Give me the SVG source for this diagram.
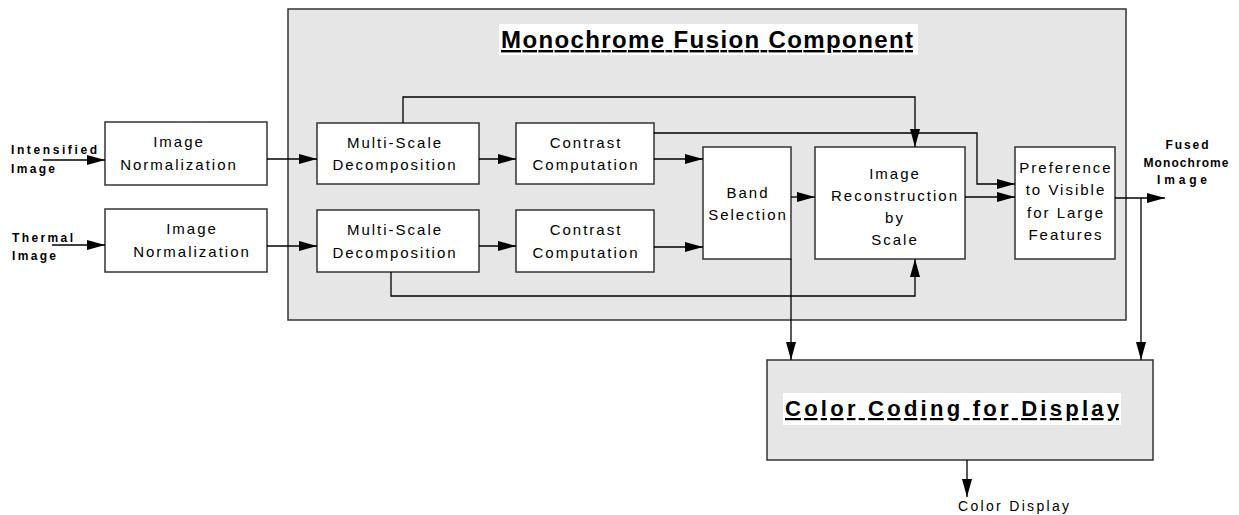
<svg xmlns="http://www.w3.org/2000/svg" width="1239" height="515" viewBox="0 0 1239 515">
<defs>
<marker id="ah" markerUnits="userSpaceOnUse" markerWidth="18" markerHeight="10" refX="18" refY="5" orient="auto">
<path d="M0,0 L18,5 L0,10 z" fill="#000"/>
</marker>
<style>
.box{fill:#fff;stroke:#333;stroke-width:1.5}
.grp{fill:#e6e6e6;stroke:#333;stroke-width:1.5}
.t{font-family:"Liberation Sans",Arial,sans-serif;font-size:15px;letter-spacing:2px;fill:#000;text-anchor:middle}
.lb{font-family:"Liberation Sans",Arial,sans-serif;font-size:12px;font-weight:bold;fill:#000}
.ttl{font-family:"Liberation Sans",Arial,sans-serif;font-weight:bold;fill:#000;text-decoration:underline}
.ca{fill:none;stroke:#000;stroke-width:1.3;marker-end:url(#ah)}
</style>
</defs>
<rect width="1239" height="515" fill="#fff"/>
<g id="monochrome-fusion">
<rect class="grp" x="288" y="9" width="838" height="311"/>
<rect x="499" y="24" width="419" height="31" fill="#fff"/>
<text class="ttl" x="501" y="48" font-size="24" textLength="412" lengthAdjust="spacing">Monochrome Fusion Component</text>
</g>
<g id="color-coding">
<rect class="grp" x="767" y="360" width="386" height="100"/>
<rect x="783" y="393" width="338" height="32" fill="#fff"/>
<text class="ttl" x="785" y="416" font-size="22" textLength="334" lengthAdjust="spacing">Color Coding for Display</text>
</g>
<g id="input-intensified">
<text class="lb" x="11" y="154" textLength="86" lengthAdjust="spacing">Intensified</text>
<text class="lb" x="11" y="173" textLength="44" lengthAdjust="spacing">Image</text>
</g>
<g id="input-thermal">
<text class="lb" x="12" y="242" textLength="61" lengthAdjust="spacing">Thermal</text>
<text class="lb" x="12" y="260" textLength="44" lengthAdjust="spacing">Image</text>
</g>
<g id="norm1">
<rect class="box" x="105" y="122" width="162" height="63"/>
<text class="t" x="179" y="147">Image</text>
<text class="t" x="179" y="170">Normalization</text>
</g>
<g id="norm2">
<rect class="box" x="105" y="209" width="162" height="63"/>
<text class="t" x="192" y="234">Image</text>
<text class="t" x="192" y="257">Normalization</text>
</g>
<g id="msd1">
<rect class="box" x="317" y="123" width="162" height="61"/>
<text class="t" x="395" y="148">Multi-Scale</text>
<text class="t" x="395" y="170">Decomposition</text>
</g>
<g id="msd2">
<rect class="box" x="317" y="210" width="162" height="62"/>
<text class="t" x="395" y="235">Multi-Scale</text>
<text class="t" x="395" y="258">Decomposition</text>
</g>
<g id="contrast1">
<rect class="box" x="516" y="123" width="138" height="61"/>
<text class="t" x="586" y="148">Contrast</text>
<text class="t" x="586" y="170">Computation</text>
</g>
<g id="contrast2">
<rect class="box" x="516" y="210" width="138" height="62"/>
<text class="t" x="586" y="235">Contrast</text>
<text class="t" x="586" y="258">Computation</text>
</g>
<g id="band">
<rect class="box" x="703" y="147" width="88" height="112"/>
<text class="t" x="748" y="198">Band</text>
<text class="t" x="748" y="220">Selection</text>
</g>
<g id="recon">
<rect class="box" x="815" y="147" width="150" height="112"/>
<text class="t" x="895" y="179">Image</text>
<text class="t" x="895" y="201">Reconstruction</text>
<text class="t" x="895" y="223">by</text>
<text class="t" x="895" y="245">Scale</text>
</g>
<g id="preference">
<rect class="box" x="1015" y="147" width="100" height="112"/>
<text class="t" x="1066" y="173">Preference</text>
<text class="t" x="1066" y="195">to Visible</text>
<text class="t" x="1066" y="218">for Large</text>
<text class="t" x="1066" y="240">Features</text>
</g>
<g id="output-fused">
<text class="lb" x="1187" y="149" text-anchor="middle" textLength="43" lengthAdjust="spacing">Fused</text>
<text class="lb" x="1186" y="167" text-anchor="middle" textLength="85" lengthAdjust="spacing">Monochrome</text>
<text class="lb" x="1182" y="184" text-anchor="middle" textLength="50" lengthAdjust="spacing">Image</text>
</g>
<g id="output-display">
<text x="958" y="511" font-family="'Liberation Sans',Arial,sans-serif" font-size="14" textLength="111" lengthAdjust="spacing">Color Display</text>
</g>
<g id="connectors">
<path class="ca" d="M43,160 H105"/>
<path class="ca" d="M52,245 H105"/>
<path class="ca" d="M267,159 H317"/>
<path class="ca" d="M267,246 H317"/>
<path class="ca" d="M479,159 H516"/>
<path class="ca" d="M479,246 H516"/>
<path class="ca" d="M654,159 H703"/>
<path class="ca" d="M654,247 H703"/>
<path class="ca" d="M403,123 V97 H915 V147"/>
<path class="ca" d="M391,272 V296 H915 V259"/>
<path class="ca" d="M654,133 H977 V184 H1015"/>
<path class="ca" d="M791,197 H815"/>
<path class="ca" d="M965,197 H1015"/>
<path class="ca" d="M791,259 V360"/>
<path class="ca" d="M1115,198 H1165"/>
<path class="ca" d="M1141,198 V360"/>
<path class="ca" d="M967,460 V497"/>
</g>
</svg>
